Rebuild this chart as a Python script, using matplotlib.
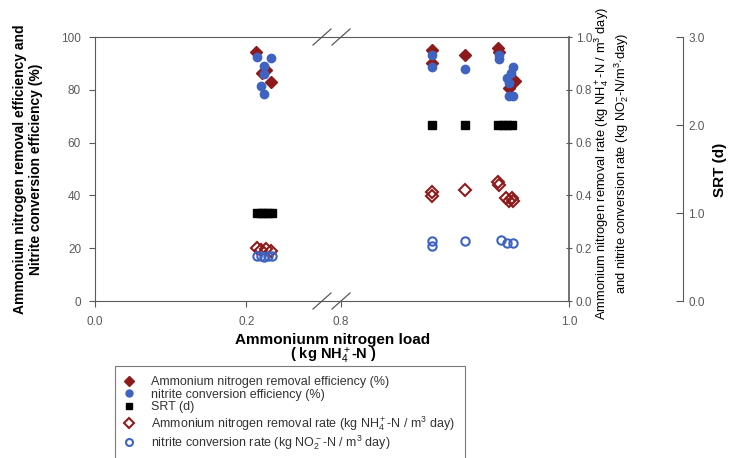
import matplotlib
matplotlib.use("Agg")

import numpy as np
import matplotlib.pyplot as plt
from matplotlib.lines import Line2D

plt.rcParams["font.family"] = ["Liberation Sans", "DejaVu Sans"]
plt.rcParams["mathtext.fontset"] = "custom"
plt.rcParams["mathtext.rm"] = "Liberation Sans"
plt.rcParams["mathtext.it"] = "Liberation Sans"
plt.rcParams["mathtext.bf"] = "Liberation Sans:bold"

# Data
# ammonium nitrogen removal efficiency (%)
eff_nh4_load = [0.213, 0.221, 0.226, 0.233,
                0.880, 0.880, 0.909,
                0.938, 0.939, 0.953, 0.947]
eff_nh4 = [94.5, 86.5, 87.5, 83.0,
           95.0, 90.0, 93.0,
           96.0, 94.5, 83.5, 80.5]

# nitrite conversion efficiency (%)
eff_no2_load = [0.214, 0.233, 0.224, 0.224, 0.219, 0.224,
                0.880, 0.880, 0.909,
                0.939, 0.939, 0.951, 0.949, 0.946, 0.947, 0.947, 0.951]
eff_no2 = [92.5, 92.0, 89.0, 86.0, 81.5, 78.5,
           93.0, 88.5, 88.0,
           93.0, 91.5, 88.5, 86.5, 84.5, 82.5, 77.5, 77.5]

# SRT (d)
srt_load = [0.214, 0.219, 0.224, 0.229, 0.234,
            0.880, 0.909,
            0.938, 0.942, 0.946, 0.950]
srt = [1.0, 1.0, 1.0, 1.0, 1.0,
       2.0, 2.0,
       2.0, 2.0, 2.0, 2.0]

# ammonium nitrogen removal rate (kg NH4+-N / m3 day)
rate_nh4_load = [0.214, 0.220, 0.226, 0.232,
                 0.880, 0.880, 0.909,
                 0.938, 0.939, 0.945, 0.950, 0.947, 0.951]
rate_nh4 = [0.200, 0.193, 0.197, 0.190,
            0.413, 0.398, 0.420,
            0.450, 0.440, 0.390, 0.390, 0.377, 0.380]

# nitrite conversion rate (kg NO2--N / m3 day)
rate_no2_load = [0.214, 0.219, 0.224, 0.229, 0.234,
                 0.880, 0.880, 0.909,
                 0.940, 0.946, 0.951]
rate_no2 = [0.170, 0.170, 0.168, 0.170, 0.171,
            0.228, 0.207, 0.226,
            0.231, 0.220, 0.219]

red = "#8e1b1b"
blue = "#3f63c1"
grey = "#5a5a5a"

W, H = 734, 458
bottom = 1 - 301 / H
height = 264 / H

fig = plt.figure(figsize=(W / 100, H / 100), dpi=100)
axL = fig.add_axes([95 / W, bottom, (322 - 95) / W, height])
axR = fig.add_axes([341 / W, bottom, (569 - 341) / W, height])


def draw(ax, xlim):
    ax.set_xlim(*xlim)
    ax.set_ylim(0, 100)
    rate = ax.twinx()
    rate.set_ylim(0, 1)
    srt_ax = ax.twinx()
    srt_ax.set_ylim(0, 3)
    ax.plot(eff_nh4_load, eff_nh4, "D", color=red, ms=6.5, mec=red)
    ax.plot(eff_no2_load, eff_no2, "o", color=blue, ms=6, mec=blue)
    srt_ax.plot(srt_load, srt, "s", color="black", ms=5.5)
    rate.plot(rate_nh4_load, rate_nh4, "D", mfc="none", mec=red, mew=1.5, ms=6.5)
    rate.plot(rate_no2_load, rate_no2, "o", mfc="none", mec=blue, mew=1.5, ms=6)
    for a in (ax, rate, srt_ax):
        for s in a.spines.values():
            s.set_color(grey)
    return rate, srt_ax


rL, sL = draw(axL, (0, 0.3))
rR, sR = draw(axR, (0.8, 1.0))

# left segment
for a in (rL, sL):
    a.set_yticks([])
    for s in a.spines.values():
        s.set_visible(False)
axL.spines["right"].set_visible(False)
axL.set_xticks([0.0, 0.2])
axL.set_xticklabels(["0.0", "0.2"])
axL.set_yticks([0, 20, 40, 60, 80, 100])
axL.tick_params(axis="both", colors=grey, labelsize=8.5, length=4, width=0.8)
axL.tick_params(axis="x", pad=7)
axL.tick_params(axis="y", pad=6)

# right segment
axR.spines["left"].set_visible(False)
axR.spines["right"].set_visible(False)
axR.set_yticks([])
axR.set_xticks([0.8, 1.0])
axR.set_xticklabels(["0.8", "1.0"])
axR.tick_params(axis="x", colors=grey, labelsize=8.5, length=4, width=0.8, pad=7)
for s in ("left", "top", "bottom"):
    rR.spines[s].set_visible(False)
    sR.spines[s].set_visible(False)
sR.spines["right"].set_visible(False)
sR.set_yticks([])
rR.set_yticks([0.0, 0.2, 0.4, 0.6, 0.8, 1.0])
rR.yaxis.set_major_formatter(matplotlib.ticker.FormatStrFormatter("%.1f"))
rR.tick_params(axis="y", colors=grey, labelsize=8.5, length=4, width=0.8,
               direction="inout", pad=3)
rR.spines["right"].set_linewidth(1.2)

# SRT axis
srt_spine = fig.add_axes([682 / W, bottom, 0.001, height])
srt_spine.set_ylim(0, 3)
srt_spine.patch.set_visible(False)
for s in ("left", "top", "bottom"):
    srt_spine.spines[s].set_visible(False)
srt_spine.spines["right"].set_color(grey)
srt_spine.set_xticks([])
srt_spine.yaxis.tick_right()
srt_spine.set_yticks([0.0, 1.0, 2.0, 3.0])
srt_spine.yaxis.set_major_formatter(matplotlib.ticker.FormatStrFormatter("%.1f"))
srt_spine.tick_params(axis="y", colors=grey, labelsize=8.5, length=5, width=0.8,
                      direction="in", pad=4)
fig.text(720 / W, 1 - 170 / H, "SRT (d)", rotation=90, ha="center", va="center",
         fontsize=11, fontweight="bold")

# axis break: connecting spines and slashes
for yy in (37, 301):
    y0 = 1 - yy / H
    fig.add_artist(Line2D([322 / W, 341 / W], [y0, y0], color=grey, lw=0.8))
    for xc in (322, 341):
        fig.add_artist(Line2D([(xc - 9) / W, (xc + 9) / W],
                              [y0 - 8 / H, y0 + 8 / H], color=grey, lw=0.9))

# labels
fig.text(333 / W, 1 - 340 / H, "Ammoniunm nitrogen load", ha="center", va="center",
         fontsize=11, fontweight="bold")
fig.text(333 / W, 1 - 356 / H, r"( kg NH$_4^+$-N )", ha="center", va="center",
         fontsize=10.5, fontweight="bold")
fig.text(28 / W, 1 - 169 / H,
         "Ammonium nitrogen removal efficiency and\nNitrite conversion efficiency (%)",
         rotation=90, ha="center", va="center", fontsize=10, fontweight="bold",
         linespacing=1.2)
fig.text(612 / W, 1 - 163 / H,
         "Ammonium nitrogen removal rate (kg NH$_4^+$-N / m$^3$ day)\n"
         "and nitrite conversion rate (kg NO$_2^{-}$-N/m$^3$$\\cdot$day)",
         rotation=90, ha="center", va="center", fontsize=9.3, linespacing=1.12)

handles = [
    Line2D([], [], ls="none", marker="D", color=red, ms=5),
    Line2D([], [], ls="none", marker="o", color=blue, ms=5),
    Line2D([], [], ls="none", marker="s", color="black", ms=5),
    Line2D([], [], ls="none", marker="D", mfc="none", mec=red, mew=1.5, ms=5),
    Line2D([], [], ls="none", marker="o", mfc="none", mec=blue, mew=1.5, ms=5),
]
labels = [
    "Ammonium nitrogen removal efficiency (%)",
    "nitrite conversion efficiency (%)",
    "SRT (d)",
    "Ammonium nitrogen removal rate (kg NH$_4^+$-N / m$^3$ day)",
    "nitrite conversion rate (kg NO$_2^-$-N / m$^3$ day)",
]
leg = fig.legend(handles, labels, loc="upper left",
                 bbox_to_anchor=(115 / W, 1 - 366 / H), fontsize=9,
                 frameon=True, fancybox=False, edgecolor=grey,
                 handlelength=0.6, handletextpad=1.5, labelspacing=0.05,
                 borderpad=0.8, borderaxespad=0)
leg.get_frame().set_linewidth(0.8)
for t in leg.get_texts():
    t.set_color("#333333")

fig.savefig("out.png", dpi=100)
